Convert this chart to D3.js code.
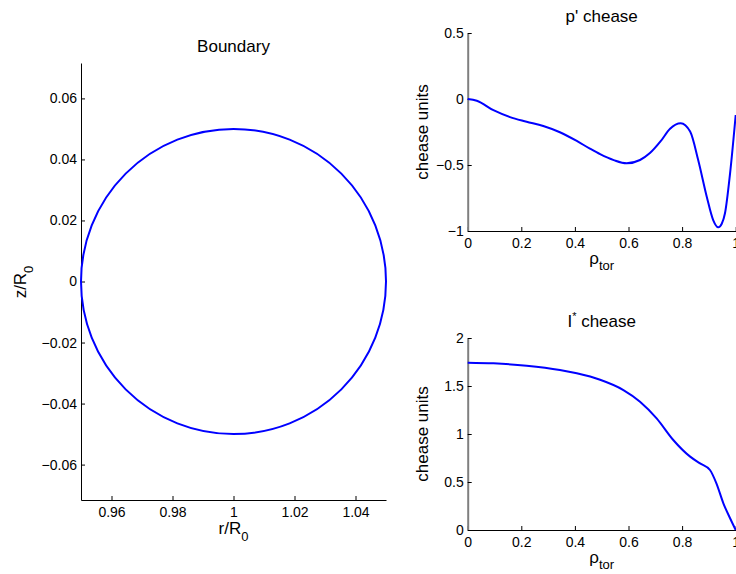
<!DOCTYPE html>
<html>
<head>
<meta charset="utf-8">
<script src="https://cdn.jsdelivr.net/npm/d3@7/dist/d3.min.js"></script>
<style>
  html, body { margin: 0; padding: 0; background: #fff; }
  svg { display: block; }
  text { font-family: "Liberation Sans", Arial, Helvetica, sans-serif; fill: #000; }
</style>
</head>
<body>
<svg id="fig" width="736" height="574"></svg>
<script>
// Plasma boundary: circular cross-section (normalised major radius / minor radius)
const boundaryCenter = [1.0, 0.0];
const boundaryMinorRadius = 0.05;
const boundaryXTicks = [0.96, 0.98, 1.0, 1.02, 1.04];
const boundaryXTickLabels = ["0.96", "0.98", "1", "1.02", "1.04"];
const boundaryYTicks = [-0.06, -0.04, -0.02, 0, 0.02, 0.04, 0.06];
const boundaryYTickLabels = ["\u22120.06", "\u22120.04", "\u22120.02", "0", "0.02", "0.04", "0.06"];

// p' profile vs normalised toroidal flux coordinate
const pPrimeRho = [0, 0.034, 0.096, 0.158, 0.22, 0.282, 0.344, 0.407, 0.456, 0.494, 0.545, 0.593, 0.643, 0.68, 0.72, 0.755, 0.795, 0.83, 0.86, 0.892, 0.916, 0.935, 0.948, 0.96, 0.979, 1.0];
const pPrimeVal = [0, -0.013, -0.085, -0.137, -0.172, -0.205, -0.252, -0.318, -0.376, -0.418, -0.463, -0.487, -0.462, -0.41, -0.32, -0.225, -0.184, -0.247, -0.462, -0.74, -0.917, -0.972, -0.945, -0.866, -0.563, -0.121];
const pPrimeYTicks = [-1, -0.5, 0, 0.5];
const pPrimeYTickLabels = ["\u22121", "\u22120.5", "0", "0.5"];

// I* profile vs normalised toroidal flux coordinate
const iStarRho = [0, 0.096, 0.22, 0.344, 0.407, 0.494, 0.581, 0.643, 0.705, 0.767, 0.83, 0.867, 0.904, 0.928, 0.954, 0.979, 1.0];
const iStarVal = [1.743, 1.736, 1.712, 1.667, 1.632, 1.565, 1.458, 1.337, 1.163, 0.9375, 0.764, 0.694, 0.625, 0.486, 0.278, 0.122, 0];
const iStarYTicks = [0, 0.5, 1, 1.5, 2];
const iStarYTickLabels = ["0", "0.5", "1", "1.5", "2"];

const rhoTicks = [0, 0.2, 0.4, 0.6, 0.8, 1];
const rhoTickLabels = ["0", "0.2", "0.4", "0.6", "0.8", "1"];

const svg = d3.select("#fig");
const BLUE = "#0000ff";
const TICK_FS = 14, LABEL_FS = 17, SUB_FS = 13;

function labeller(values, labels) {
  return d => labels[values.findIndex(v => Math.abs(v - d) < 1e-9)];
}

function drawAxes(g, x, y, xt, xl, yt, yl, yAxisColor, yAxisWidth) {
  const xa = d3.axisBottom(x).tickValues(xt).tickFormat(labeller(xt, xl))
    .tickSizeInner(-4).tickSizeOuter(0).tickPadding(7);
  const ya = d3.axisLeft(y).tickValues(yt).tickFormat(labeller(yt, yl))
    .tickSizeInner(-4).tickSizeOuter(0).tickPadding(4);
  const gx = g.append("g").attr("transform", `translate(0,${y.range()[0]})`).call(xa);
  const gy = g.append("g").attr("transform", `translate(${x.range()[0]},0)`).call(ya);
  [gx, gy].forEach(a => {
    a.selectAll("text").style("font-size", TICK_FS + "px").style("font-family", "'Liberation Sans', Arial, sans-serif").attr("fill", "#000");
    a.selectAll(".tick line").attr("stroke", "#000");
  });
  gx.select(".domain").attr("stroke", "#000").attr("stroke-width", 1);
  gy.select(".domain").attr("stroke", yAxisColor).attr("stroke-width", yAxisWidth);
}

function title(g, cx, baseline, parts) {
  const t = g.append("text").attr("x", cx).attr("y", baseline)
    .attr("text-anchor", "middle").style("font-size", LABEL_FS + "px");
  parts.forEach(p => {
    const s = t.append("tspan").text(p.t);
    if (p.fs) s.style("font-size", p.fs + "px");
    if (p.dy) s.attr("dy", p.dy);
  });
  return t;
}

// ---- Boundary panel ----
{
  const x = d3.scaleLinear().domain([0.95, 1.05]).range([81, 386]);
  const y = d3.scaleLinear().domain([-0.0716, 0.0716]).range([500, 63]);
  const g = svg.append("g");
  drawAxes(g, x, y, boundaryXTicks, boundaryXTickLabels, boundaryYTicks, boundaryYTickLabels, "#000", 1);

  g.append("ellipse")
    .attr("cx", x(boundaryCenter[0])).attr("cy", y(boundaryCenter[1]))
    .attr("rx", x(boundaryCenter[0] + boundaryMinorRadius) - x(boundaryCenter[0]))
    .attr("ry", y(boundaryCenter[1]) - y(boundaryCenter[1] + boundaryMinorRadius))
    .attr("fill", "none").attr("stroke", BLUE).attr("stroke-width", 2);

  title(g, 233.5, 51.7, [{t: "Boundary"}]);
  title(g, 233.5, 533.5, [{t: "r/R"}, {t: "0", fs: SUB_FS, dy: 7}]);
  g.append("g").attr("transform", "translate(26,282) rotate(-90)")
    .call(s => title(s, 0, 0, [{t: "z/R"}, {t: "0", fs: SUB_FS, dy: 7}]));
}

// ---- profile panels ----
function profilePanel(top, bottom, yDomain, yt, yl, rho, vals, parts) {
  const x = d3.scaleLinear().domain([0, 1]).range([467.7, 735.7]);
  const y = d3.scaleLinear().domain(yDomain).range([bottom, top]);
  const g = svg.append("g");
  drawAxes(g, x, y, rhoTicks, rhoTickLabels, yt, yl, "#7f7f7f", 2);
  const line = d3.line().x(d => x(d[0])).y(d => y(d[1])).curve(d3.curveMonotoneX);
  g.append("path").datum(rho.map((r, i) => [r, vals[i]]))
    .attr("d", line).attr("fill", "none").attr("stroke", BLUE).attr("stroke-width", 2)
    .attr("stroke-linejoin", "round");
  const cx = (x.range()[0] + x.range()[1]) / 2;
  title(g, cx, top - 11.5, parts);
  title(g, cx, bottom + 33, [{t: "\u03c1"}, {t: "tor", fs: SUB_FS, dy: 6}]);
  g.append("g").attr("transform", `translate(428,${(top + bottom) / 2}) rotate(-90)`)
    .call(s => title(s, 0, 0, [{t: "chease units"}]));
}

profilePanel(33, 231, [-1, 0.5], pPrimeYTicks, pPrimeYTickLabels, pPrimeRho, pPrimeVal,
  [{t: "p' chease"}]);
profilePanel(338, 530, [0, 2], iStarYTicks, iStarYTickLabels, iStarRho, iStarVal,
  [{t: "I"}, {t: "*", fs: 11, dy: -7}, {t: " chease", dy: 7}]);
</script>
</body>
</html>
